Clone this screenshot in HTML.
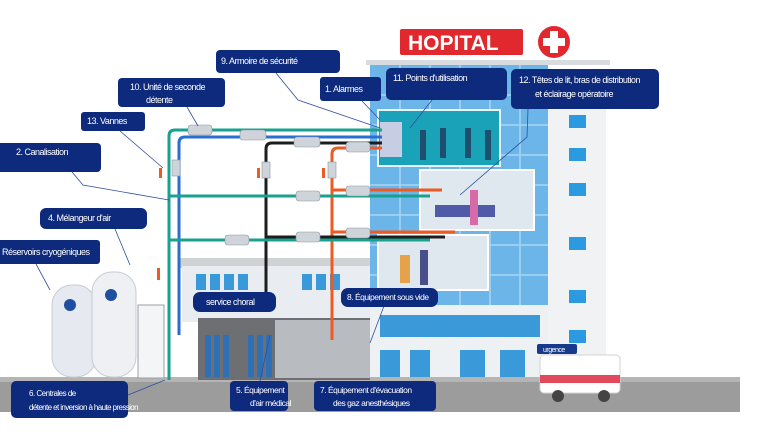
<!DOCTYPE html>
<html><head><meta charset="utf-8"><style>
body{margin:0;background:#fff;width:768px;height:432px;overflow:hidden;font-family:"Liberation Sans",sans-serif}
svg text{font-family:"Liberation Sans",sans-serif;fill:#fff;font-size:9px;letter-spacing:-0.5px}
</style></head><body>
<svg width="768" height="432" viewBox="0 0 768 432" xmlns="http://www.w3.org/2000/svg">
<rect x="0" y="377" width="740" height="35" fill="#9c9c9c"/>
<rect x="0" y="377" width="740" height="5" fill="#b5b5b5"/>
<rect x="180" y="258" width="200" height="10" fill="#d0d3d6"/>
<rect x="182" y="266" width="196" height="56" fill="#e9edf1"/>
<g fill="#3a9ad9"><rect x="196" y="274" width="10" height="16"/><rect x="210" y="274" width="10" height="16"/><rect x="224" y="274" width="10" height="16"/><rect x="238" y="274" width="10" height="16"/><rect x="302" y="274" width="10" height="16"/><rect x="316" y="274" width="10" height="16"/><rect x="330" y="274" width="10" height="16"/></g>
<rect x="198" y="318" width="172" height="62" fill="#6d6f72"/>
<rect x="275" y="320" width="95" height="58" fill="#b8bcc0"/>
<g fill="#2f6fb6"><rect x="205" y="335" width="6" height="42"/><rect x="214" y="335" width="6" height="42"/><rect x="223" y="335" width="6" height="42"/><rect x="248" y="335" width="6" height="42"/><rect x="257" y="335" width="6" height="42"/><rect x="266" y="335" width="6" height="42"/></g>
<rect x="366" y="60" width="244" height="5" fill="#d9dcdf"/>
<rect x="370" y="65" width="178" height="312" fill="#6cb5e8"/>
<g stroke="#a9d6f3" stroke-width="1.5"><line x1="370" y1="95" x2="548" y2="95"/><line x1="370" y1="125" x2="548" y2="125"/><line x1="370" y1="155" x2="548" y2="155"/><line x1="370" y1="185" x2="548" y2="185"/><line x1="370" y1="215" x2="548" y2="215"/><line x1="370" y1="245" x2="548" y2="245"/><line x1="370" y1="275" x2="548" y2="275"/><line x1="400" y1="65" x2="400" y2="377"/><line x1="430" y1="65" x2="430" y2="377"/><line x1="460" y1="65" x2="460" y2="377"/><line x1="490" y1="65" x2="490" y2="377"/><line x1="520" y1="65" x2="520" y2="377"/></g>
<rect x="548" y="85" width="58" height="292" fill="#f0f2f4"/>
<g fill="#2b9ae0"><rect x="569" y="115" width="17" height="13"/><rect x="569" y="148" width="17" height="13"/><rect x="569" y="183" width="17" height="13"/><rect x="569" y="237" width="17" height="13"/><rect x="569" y="290" width="17" height="13"/><rect x="569" y="330" width="17" height="13"/></g>
<rect x="370" y="305" width="178" height="72" fill="#eef1f4"/>
<g fill="#3a9ad9"><rect x="380" y="315" width="160" height="22"/><rect x="380" y="350" width="20" height="27"/><rect x="410" y="350" width="20" height="27"/><rect x="460" y="350" width="25" height="27"/><rect x="500" y="350" width="25" height="27"/></g>
<rect x="378" y="110" width="122" height="56" fill="#1aa3b8" stroke="#e8f6fb" stroke-width="2"/>
<rect x="380" y="122" width="22" height="35" fill="#c7cde3"/>
<rect x="420" y="170" width="114" height="60" fill="#dfe8ee" stroke="#fff" stroke-width="2"/>
<rect x="378" y="235" width="110" height="55" fill="#dfe8ee" stroke="#fff" stroke-width="2"/>
<g fill="#1e4f6e"><rect x="420" y="130" width="6" height="30"/><rect x="440" y="128" width="6" height="30"/><rect x="465" y="128" width="6" height="30"/><rect x="485" y="130" width="6" height="30"/></g>
<rect x="435" y="205" width="60" height="12" fill="#4f5aa8"/>
<rect x="470" y="190" width="8" height="35" fill="#d86aa8"/>
<rect x="400" y="255" width="10" height="28" fill="#e6a24a"/>
<rect x="420" y="250" width="8" height="35" fill="#4a4f8a"/>
<rect x="400" y="29" width="123" height="26" rx="2" fill="#e0282e"/>
<text x="408" y="50" style="font-size:21px;font-weight:bold;letter-spacing:0">HOPITAL</text>
<circle cx="554" cy="42" r="16" fill="#e0282e"/>
<rect x="550" y="31" width="8" height="22" fill="#fff"/><rect x="543" y="38" width="22" height="8" fill="#fff"/>
<g fill="none" stroke-width="3">
<path d="M169 380 V136 q0-6 6-6 H382" stroke="#1aa08f"/>
<path d="M179 335 V143 q0-6 6-6 H382" stroke="#2a6fd0"/>
<path d="M266 300 V149 q0-6 6-6 H382" stroke="#1d1d1d"/>
<path d="M332 340 V154 q0-6 6-6 H382" stroke="#ee5a23"/>
<path d="M169 196 H430" stroke="#1aa08f"/>
<path d="M169 240 H430" stroke="#1aa08f"/>
<path d="M266 237 H445" stroke="#1d1d1d"/>
<path d="M332 190 H442" stroke="#ee5a23"/>
<path d="M332 232 H455" stroke="#ee5a23"/>
</g>
<g fill="#cfd4da" stroke="#8c96a3" stroke-width="0.6">
<rect x="188" y="125" width="24" height="10" rx="3"/><rect x="240" y="130" width="26" height="10" rx="3"/><rect x="294" y="137" width="26" height="10" rx="3"/><rect x="346" y="142" width="24" height="10" rx="3"/>
<rect x="296" y="191" width="24" height="10" rx="3"/><rect x="346" y="186" width="24" height="10" rx="3"/><rect x="225" y="235" width="24" height="10" rx="3"/><rect x="296" y="232" width="24" height="10" rx="3"/><rect x="346" y="228" width="24" height="10" rx="3"/>
<rect x="172" y="160" width="8" height="16"/><rect x="262" y="162" width="8" height="16"/><rect x="328" y="162" width="8" height="16"/>
</g>
<g fill="#ee5a23"><rect x="159" y="168" width="3" height="10"/><rect x="257" y="168" width="3" height="10"/><rect x="322" y="168" width="3" height="10"/><rect x="157" y="268" width="3" height="12"/></g>
<rect x="52" y="285" width="44" height="92" rx="20" fill="#e6e9ef" stroke="#c7ccd4"/>
<rect x="92" y="272" width="44" height="105" rx="20" fill="#eef0f4" stroke="#c7ccd4"/>
<circle cx="70" cy="305" r="6" fill="#1f4fa0"/><circle cx="111" cy="295" r="6" fill="#1f4fa0"/>
<rect x="138" y="305" width="26" height="73" fill="#f4f5f7" stroke="#9aa0a8"/>
<rect x="540" y="355" width="80" height="38" rx="4" fill="#fff" stroke="#d3d3d3"/>
<rect x="540" y="375" width="80" height="8" fill="#e04a5a"/>
<circle cx="558" cy="396" r="6" fill="#444"/><circle cx="604" cy="396" r="6" fill="#444"/>
<rect x="537" y="344" width="40" height="10" rx="2" fill="#173a8a"/><text x="543" y="352" style="font-size:7px">urgence</text>
<g stroke="#2f4fa0" stroke-width="0.8" fill="none">
<path d="M276 73 L298 100 L380 128"/><path d="M187 107 L198 126"/><path d="M120 131 L163 168"/>
<path d="M72 172 L83 185 L169 200"/><path d="M115 229 L130 265"/><path d="M36 264 L50 290"/>
<path d="M362 101 L380 120"/><path d="M432 100 L410 128"/><path d="M528 109 L527 137 L460 195"/>
<path d="M384 306 L370 343"/><path d="M128 395 L165 380"/><path d="M260 381 L270 335"/>
</g>
<g fill="#0e2a7d">
<rect x="216" y="50" width="124" height="23" rx="4"/>
<rect x="118" y="78" width="107" height="29" rx="4"/>
<rect x="81" y="112" width="64" height="19" rx="3"/>
<rect x="-4" y="143" width="105" height="29" rx="4"/>
<rect x="40" y="208" width="107" height="21" rx="6"/>
<rect x="-4" y="240" width="104" height="24" rx="3"/>
<rect x="320" y="77" width="61" height="24" rx="3"/>
<rect x="386" y="68" width="121" height="32" rx="5"/>
<rect x="511" y="69" width="148" height="40" rx="5"/>
<rect x="193" y="292" width="83" height="20" rx="7"/>
<rect x="341" y="288" width="97" height="19" rx="7"/>
<rect x="11" y="381" width="117" height="37" rx="5"/>
<rect x="230" y="381" width="58" height="30" rx="4"/>
<rect x="314" y="381" width="122" height="30" rx="4"/>
</g>
<text x="221" y="64">9.  Armoire de sécurité</text>
<text x="130" y="90">10. Unité de seconde</text><text x="146" y="103">détente</text>
<text x="87" y="124">13. Vannes</text>
<text x="16" y="155">2.  Canalisation</text>
<text x="48" y="221">4.  Mélangeur d'air</text>
<text x="2" y="255">Réservoirs cryogéniques</text>
<text x="325" y="92">1. Alarmes</text>
<text x="393" y="81">11.  Points d'utilisation</text>
<text x="519" y="83">12. Têtes de lit, bras de distribution</text><text x="535" y="97">et éclairage opératoire</text>
<text x="206" y="305">service choral</text>
<text x="347" y="300" style="font-size:8.5px">8. Équipement sous vide</text>
<text x="29" y="396" style="font-size:8px">6. Centrales de</text><text x="29" y="410" style="font-size:8px;letter-spacing:-0.6px">détente et inversion à haute pression</text>
<text x="236" y="393" style="font-size:8.5px">5.  Équipement</text><text x="250" y="406" style="font-size:8.5px">d'air médical</text>
<text x="320" y="393" style="font-size:8.5px">7.  Équipement d'évacuation</text><text x="333" y="406" style="font-size:8.5px">des gaz anesthésiques</text>
</svg>
</body></html>
